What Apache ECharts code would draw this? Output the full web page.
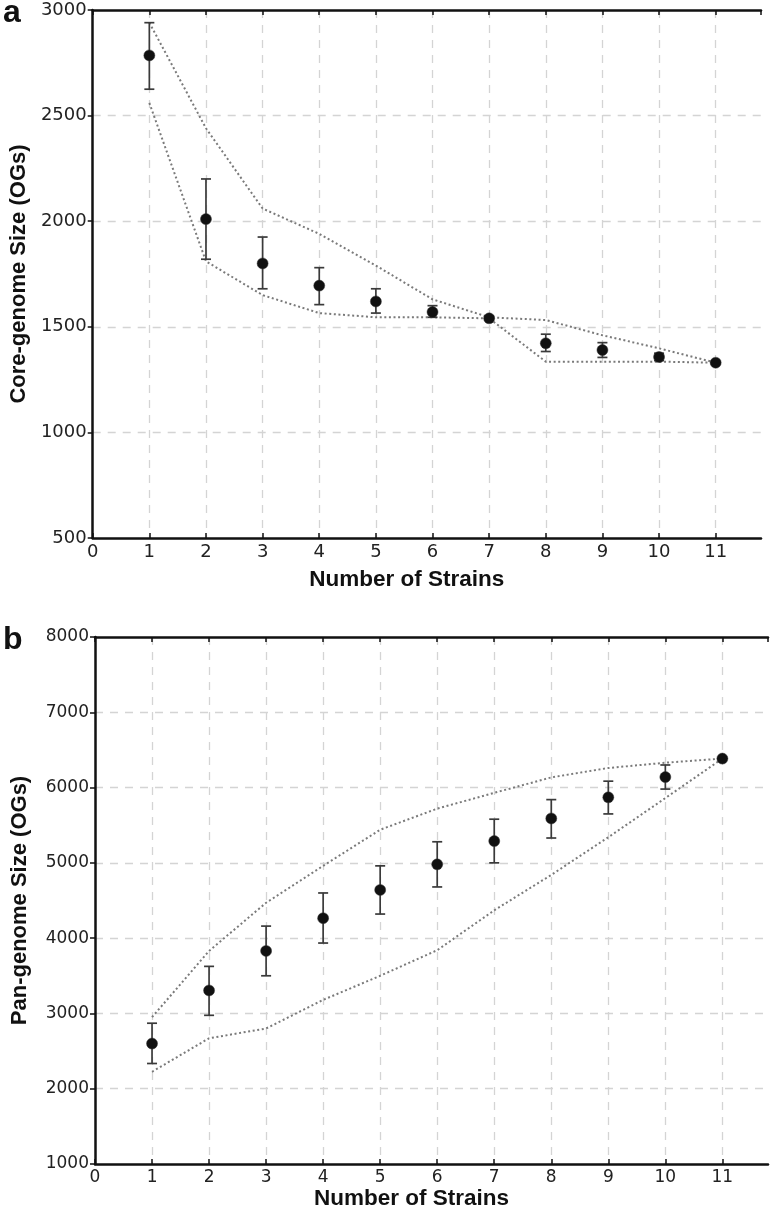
<!DOCTYPE html>
<html>
<head>
<meta charset="utf-8">
<script src="https://cdn.jsdelivr.net/npm/echarts@6/dist/echarts.min.js"></script>
<style>
html,body{margin:0;padding:0;background:#fff;}
#chart{width:775px;height:1220px;}
</style>
</head>
<body>
<div id="chart"></div>
<script>
const strains = [1, 2, 3, 4, 5, 6, 7, 8, 9, 10, 11];
const xTicks = [0, 1, 2, 3, 4, 5, 6, 7, 8, 9, 10, 11];

const coreMean = [2785, 2010, 1800, 1695, 1620, 1570, 1540, 1422, 1390, 1357, 1330];
const coreLow  = [2625, 1820, 1680, 1605, 1565, 1545, 1530, 1383, 1355, 1340, 1325];
const coreHigh = [2940, 2200, 1925, 1780, 1680, 1600, 1552, 1465, 1425, 1375, 1335];
const coreMax  = [2940, 2440, 2060, 1940, 1790, 1630, 1545, 1532, 1460, 1398, 1330];
const coreMin  = [2560, 1810, 1650, 1565, 1545, 1545, 1540, 1335, 1335, 1335, 1330];
const coreYTicks = [500, 1000, 1500, 2000, 2500, 3000];

const panMean = [2600, 3305, 3830, 4265, 4640, 4980, 5290, 5590, 5870, 6140, 6385];
const panLow  = [2335, 2975, 3500, 3935, 4320, 4680, 5000, 5330, 5650, 5980, 6385];
const panHigh = [2870, 3625, 4160, 4600, 4960, 5280, 5580, 5840, 6085, 6300, 6385];
const panMax  = [2950, 3830, 4470, 4960, 5440, 5720, 5930, 6135, 6260, 6330, 6385];
const panMin  = [2225, 2670, 2800, 3180, 3500, 3840, 4370, 4840, 5340, 5860, 6385];
const panYTicks = [1000, 2000, 3000, 4000, 5000, 6000, 7000, 8000];

const zip = (xs, ys) => xs.map((x, i) => [x, ys[i]]);

const chart = echarts.init(document.getElementById('chart'), null, {renderer: 'canvas'});

const gridStyle = {show: true, lineStyle: {color: '#d4d4d4', width: 1.3, type: [8, 7]}};
const axisLineStyle = {show: true, lineStyle: {color: '#111', width: 2.5}};
const tickFont = 'DejaVu Sans';
const plain = v => String(v);

function xBottom(gridIndex, fontSize, gap) {
  return {
    type: 'value', gridIndex: gridIndex, position: 'bottom',
    min: xTicks[0], max: 11.8, interval: 1,
    axisLine: axisLineStyle,
    axisTick: {show: true, inside: true, length: 5, lineStyle: {color: '#111', width: 1.5}},
    axisLabel: {showMaxLabel: false, formatter: plain, fontFamily: tickFont, fontSize: fontSize, color: '#222', margin: 5},
    splitLine: Object.assign({showMinLine: false, showMaxLine: false}, gridStyle),
    name: 'Number of Strains', nameLocation: 'middle', nameGap: gap,
    nameTextStyle: {fontFamily: 'Liberation Sans', fontWeight: 'bold', fontSize: 22.5, color: '#111', padding: [0, 40, 0, 0]}
  };
}
function xTop(gridIndex) {
  return {
    type: 'value', gridIndex: gridIndex, position: 'top',
    min: xTicks[0], max: 11.8, interval: 1,
    axisLine: axisLineStyle,
    axisTick: {show: true, inside: true, length: 5, lineStyle: {color: '#111', width: 1.5}},
    axisLabel: {show: false}, splitLine: {show: false}
  };
}
function yLeft(gridIndex, ticks, fontSize, name, gap) {
  return {
    type: 'value', gridIndex: gridIndex,
    min: ticks[0], max: ticks[ticks.length - 1], interval: ticks[1] - ticks[0],
    axisLine: axisLineStyle,
    axisTick: {show: true, inside: false, length: 5, lineStyle: {color: '#111', width: 1.5}},
    axisLabel: {formatter: plain, fontFamily: tickFont, fontSize: fontSize, color: '#222', margin: 6},
    splitLine: Object.assign({showMinLine: false, showMaxLine: false}, gridStyle),
    name: name, nameLocation: 'middle', nameGap: gap, nameRotate: 90,
    nameTextStyle: {fontFamily: 'Liberation Sans', fontWeight: 'bold', fontSize: 22, color: '#111'}
  };
}

function errorSeries(xAxisIndex, yAxisIndex, lows, highs) {
  return {
    type: 'custom', xAxisIndex: xAxisIndex, yAxisIndex: yAxisIndex, z: 3,
    data: strains.map((x, i) => [x, lows[i], highs[i]]),
    renderItem: function (params, api) {
      const lo = api.coord([api.value(0), api.value(1)]);
      const hi = api.coord([api.value(0), api.value(2)]);
      const w = 5;
      const st = {stroke: '#3a3a3a', lineWidth: 1.7};
      return {
        type: 'group',
        children: [
          {type: 'line', shape: {x1: lo[0], y1: lo[1], x2: hi[0], y2: hi[1]}, style: st},
          {type: 'line', shape: {x1: lo[0] - w, y1: lo[1], x2: lo[0] + w, y2: lo[1]}, style: st},
          {type: 'line', shape: {x1: hi[0] - w, y1: hi[1], x2: hi[0] + w, y2: hi[1]}, style: st}
        ]
      };
    }
  };
}
function envelope(xAxisIndex, yAxisIndex, vals) {
  return {
    type: 'line', xAxisIndex: xAxisIndex, yAxisIndex: yAxisIndex, z: 2,
    data: zip(strains, vals), symbol: 'none', silent: true,
    lineStyle: {color: '#7a7a7a', width: 2, type: [2, 2.6]}
  };
}
function points(xAxisIndex, yAxisIndex, vals) {
  return {
    type: 'scatter', xAxisIndex: xAxisIndex, yAxisIndex: yAxisIndex, z: 4,
    data: zip(strains, vals), symbol: 'circle', symbolSize: 11,
    itemStyle: {color: '#111', borderColor: '#333', borderWidth: 0.5, opacity: 1}
  };
}

const option = {
  backgroundColor: '#ffffff',
  animation: false,
  grid: [
    {left: 91, right: 14, top: 10, height: 528, containLabel: false},
    {left: 95, right: 7, top: 637, height: 527, containLabel: false}
  ],
  xAxis: [xBottom(0, 18, 30), xTop(0), xBottom(1, 17, 22), xTop(1)],
  yAxis: [
    yLeft(0, coreYTicks, 18, 'Core-genome Size (OGs)', 62),
    yLeft(1, panYTicks, 17, 'Pan-genome Size (OGs)', 64)
  ],
  graphic: [
    {type: 'text', left: 3, top: -3, style: {text: 'a', font: 'bold 32px "Liberation Sans"', fill: '#111'}},
    {type: 'text', left: 3, top: 624, style: {text: 'b', font: 'bold 32px "Liberation Sans"', fill: '#111'}}
  ],
  series: [
    envelope(0, 0, coreMax),
    envelope(0, 0, coreMin),
    errorSeries(0, 0, coreLow, coreHigh),
    points(0, 0, coreMean),
    envelope(2, 1, panMax),
    envelope(2, 1, panMin),
    errorSeries(2, 1, panLow, panHigh),
    points(2, 1, panMean)
  ]
};
chart.setOption(option);
</script>
</body>
</html>
